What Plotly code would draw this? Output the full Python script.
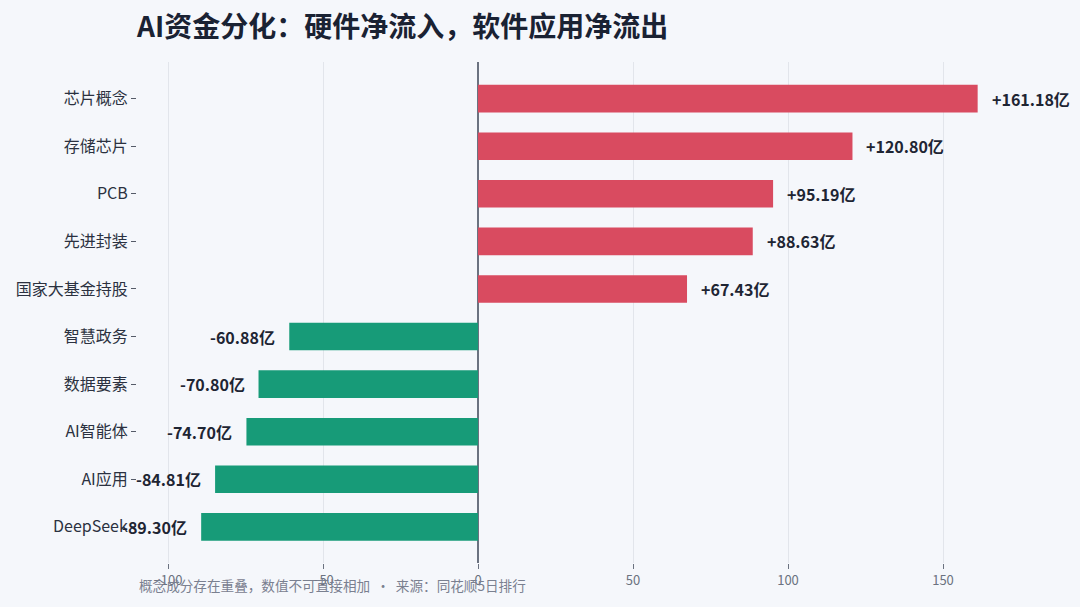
import plotly.graph_objects as go

categories = ["芯片概念", "存储芯片", "PCB", "先进封装", "国家大基金持股",
              "智慧政务", "数据要素", "AI智能体", "AI应用", "DeepSeek"]
values = [161.18, 120.80, 95.19, 88.63, 67.43,
          -60.88, -70.80, -74.70, -84.81, -89.30]
labels = ["+161.18亿", "+120.80亿", "+95.19亿", "+88.63亿", "+67.43亿",
          "-60.88亿", "-70.80亿", "-74.70亿", "-84.81亿", "-89.30亿"]
x_ticks = [-100, -50, 0, 50, 100, 150]

RED = "#d94b60"
GREEN = "#179b78"
BG = "#f5f7fb"
colors = [RED if v >= 0 else GREEN for v in values]
FONT = "Noto Sans CJK SC, Noto Sans, sans-serif"

fig = go.Figure()
fig.add_trace(go.Bar(
    x=values, y=categories, orientation="h",
    marker=dict(color=colors, line=dict(width=0)),
    hoverinfo="skip", showlegend=False,
))

annotations = []
for c, v, t in zip(categories, values, labels):
    annotations.append(dict(
        x=v, y=c, xref="x", yref="y", text=f"<b>{t}</b>", showarrow=False,
        xanchor="left" if v >= 0 else "right", yanchor="middle",
        xshift=12 if v >= 0 else -12,
        font=dict(family=FONT, size=16, color="#1e2533"),
    ))
annotations.append(dict(
    x=0, y=-0.044, xref="paper", yref="paper", xanchor="left", yanchor="middle",
    text="概念成分存在重叠，数值不可直接相加  ·  来源：同花顺5日排行",
    showarrow=False, font=dict(family=FONT, size=13.6, color="#7a8090"),
))

fig.update_layout(
    width=1080, height=607,
    margin=dict(l=137, r=13, t=62, b=44),
    paper_bgcolor=BG, plot_bgcolor=BG,
    bargap=0.42,
    title=dict(text="<b>AI资金分化：硬件净流入，软件应用净流出</b>",
               x=0, xref="paper", xanchor="left",
               y=1 - 27.5 / 607, yref="container", yanchor="middle",
               font=dict(family=FONT, size=28, color="#1a2233")),
    xaxis=dict(range=[-110, 190], tickvals=x_ticks, showgrid=True,
               gridcolor="#e2e5eb", gridwidth=1,
               zeroline=True, zerolinecolor="#6b7280", zerolinewidth=1.5,
               ticks="outside", ticklen=5, tickcolor="#6b7280",
               tickfont=dict(family=FONT, size=13, color="#6b7280"),
               showline=False, fixedrange=True),
    xaxis2=dict(range=[-110, 190], tickvals=x_ticks, overlaying="x", anchor="y",
                showgrid=True, gridcolor="rgba(255,255,255,0.55)", griddash="dash",
                gridwidth=1, layer="above traces", zeroline=False,
                showticklabels=False, ticks="", showline=False),
    yaxis=dict(categoryorder="array", categoryarray=categories,
               range=[9.76, -0.77], showgrid=False, zeroline=False,
               ticks="outside", ticklen=5, tickcolor="#555b68",
               tickfont=dict(family=FONT, size=16, color="#2b3140"),
               showline=False),
    annotations=annotations,
    font=dict(family=FONT),
)

fig.write_html(
    "out.html",
    config={"displayModeBar": False},
    post_script=("document.body.style.margin='0';"
                 "document.body.style.background='%s';" % BG),
)
